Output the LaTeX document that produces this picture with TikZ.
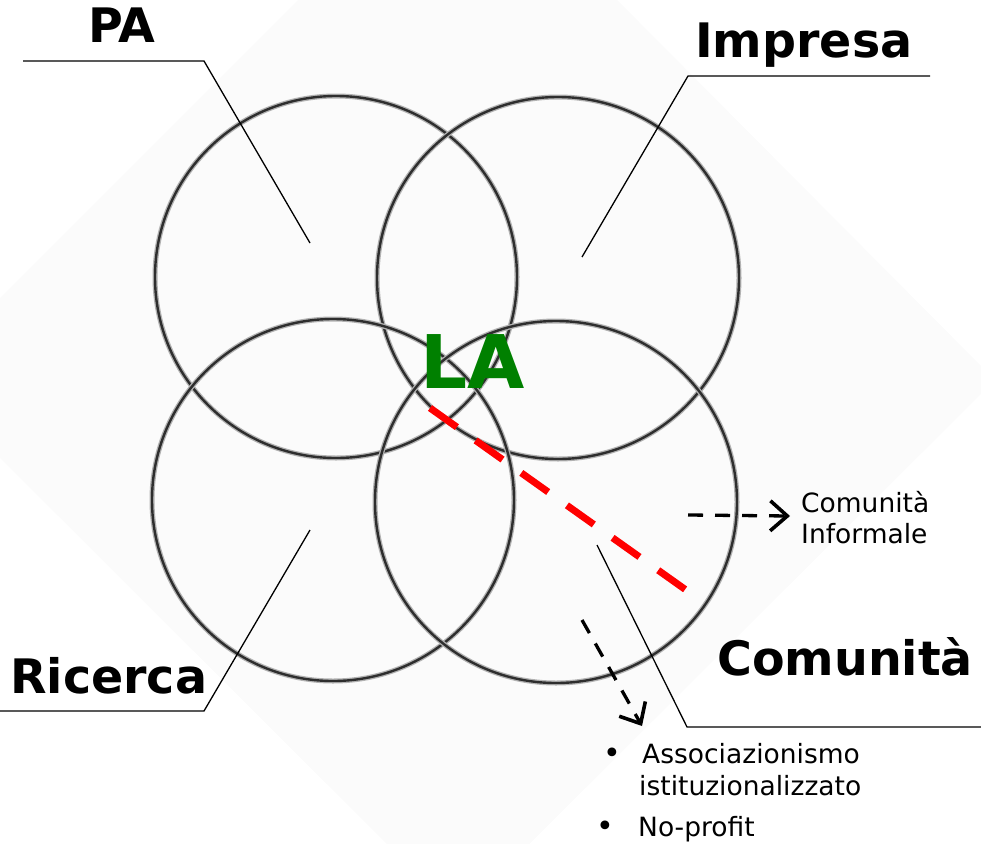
\documentclass[tikz,border=0pt]{standalone}
\usepackage{fontspec}
\setmainfont{DejaVu Sans}
\usetikzlibrary{arrows.meta}
\definecolor{diamondgray}{RGB}{251,251,251}
\definecolor{lagreen}{RGB}{0,128,0}
\tikzset{
  ring/.style={draw=black!30, line width=5pt},
  ringcore/.style={draw=black!82, line width=2.4pt},
  leader/.style={draw=black, line width=1.3pt},
  biglabel/.style={anchor=base west, inner sep=0pt, font=\fontsize{47.5}{50}\selectfont\bfseries},
  smalltext/.style={anchor=base west, inner sep=0pt, font=\fontsize{26.5}{31}\selectfont},
  bulletmark/.style={anchor=base, inner sep=0pt, text depth=0pt, font=\fontsize{30}{30}\selectfont},
  dasharrow/.style={draw=black, line width=3.3pt, dash pattern=on 15pt off 12pt,
    -{Straight Barb[length=17pt,width=30pt,line width=3.6pt]}},
  reddash/.style={draw=red, line width=7pt, dash pattern=on 33pt off 23pt},
}
\begin{document}
\begin{tikzpicture}[x=1pt,y=-1pt]
\useasboundingbox (0,0) rectangle (981,843);
% background diamond
\fill[diamondgray] (-80,378) -- (458,-160) -- (995,380) -- (458,915) -- cycle;
% circles
\coordinate (cPA) at (336,277);
\coordinate (cIM) at (558,278);
\coordinate (cRI) at (333,500);
\coordinate (cCO) at (556,502);
\foreach \c in {cPA,cIM,cRI,cCO}{
  \draw[ring] (\c) circle (181);
  \draw[ringcore] (\c) circle (181);
}
% labels
\node[biglabel] (PA) at (88,43) {PA};
\node[biglabel] (IM) at (695,58) {Impresa};
\node[biglabel] (RI) at (10,693) {Ricerca};
\node[biglabel] (CO) at (717,675) {Comunità};
\node[anchor=base west, inner sep=0pt, text=lagreen, font=\fontsize{74}{80}\selectfont\bfseries] (LA) at (420,388) {LA};
% leaders
\coordinate (pa0) at (23,61);  \coordinate (pa1) at (204,61);  \coordinate (pa2) at (310,243);
\coordinate (im0) at (930,76); \coordinate (im1) at (688,76);  \coordinate (im2) at (582,257);
\coordinate (ri0) at (0,711);  \coordinate (ri1) at (204,711); \coordinate (ri2) at (310,530);
\coordinate (co0) at (981,727);\coordinate (co1) at (687,727); \coordinate (co2) at (597,545);
\draw[leader] (pa0) -- (pa1) -- (pa2);
\draw[leader] (im0) -- (im1) -- (im2);
\draw[leader] (ri0) -- (ri1) -- (ri2);
\draw[leader] (co0) -- (co1) -- (co2);
% red dashed line
\coordinate (r0) at (430,408);
\coordinate (r1) at (686,590);
\draw[reddash] (r0) -- (r1);
% small texts
\node[smalltext] (CI1) at (801,512) {Comunità};
\node[smalltext] (CI2) at (801,543) {Informale};
\node[bulletmark] (b1) at (612,763) {•};
\node[smalltext] (AS) at (642,763) {Associazionismo};
\node[smalltext] (IS) at (639,795) {istituzionalizzato};
\node[bulletmark] (b2) at (605,836) {•};
\node[smalltext] (NP) at (638,836) {No-profit};
% dashed arrows
\coordinate (h0) at (688,515);
\coordinate (h1) at (790,516);
\coordinate (v0) at (582,620);
\coordinate (v1) at (642,726);
\draw[dasharrow] (h0) -- (h1);
\draw[dasharrow] (v0) -- (v1);
\end{tikzpicture}
\end{document}
